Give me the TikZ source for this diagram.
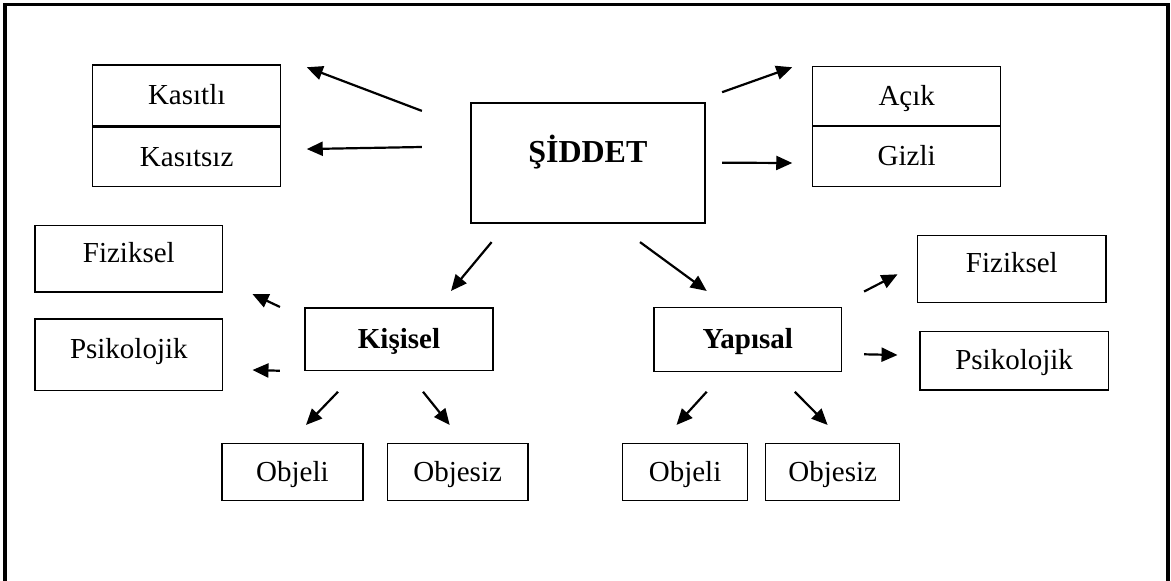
\documentclass[tikz,border=0pt]{standalone}
\usepackage{fontspec}
\setmainfont{Liberation Serif}
\usetikzlibrary{arrows.meta}

\tikzset{
	box/.style={draw, line width=1.5pt, inner sep=0pt, text height=20pt, text depth=2pt,
		font=\fontsize{29}{34}\selectfont},
	boldbox/.style={box, font=\bfseries\fontsize{29}{34}\selectfont},
	raised/.style={text depth=13pt},
	arr/.style={->, line width=2.2pt},
}

\begin{document}
\begin{tikzpicture}[x=1pt,y=-1pt,>={Triangle[length=16pt,width=14pt]}]
\useasboundingbox (0,0) rectangle (1171,581);

% outer frame (open at the bottom)
\draw[line width=3.2pt] (5,595) -- (5,4.3) -- (1168,4.3) -- (1168,595);

%----------------------------
% Top row
%----------------------------
\node[box, line width=2.2pt, minimum width=234.3pt, minimum height=120pt,
	font=\bfseries\fontsize{32}{38}\selectfont, text height=22pt, text depth=22pt]
	(siddet) at (587.85,162.7) {ŞİDDET};

% Kasıtlı / Kasıtsız
\node[box, minimum width=188pt, minimum height=60.8pt] (kasitli) at (186.7,95.4) {Kasıtlı};
\node[box, minimum width=188pt, minimum height=59.3pt] (kasitsiz) at (186.7,157.05) {Kasıtsız};

% Açık / Gizli
\node[box, minimum width=188pt, minimum height=59.3pt] (acik) at (906.7,96.35) {Açık};
\node[box, minimum width=188pt, minimum height=60.7pt] (gizli) at (906.7,156.35) {Gizli};

%----------------------------
% Kişisel side
%----------------------------
\node[boldbox, minimum width=188pt, minimum height=62.7pt] (kisisel) at (399,339.35) {Kişisel};
\node[box, raised, minimum width=187.7pt, minimum height=66.3pt] (fizL) at (128.85,258.85) {Fiziksel};
\node[box, raised, minimum width=187.7pt, minimum height=71.7pt] (psiL) at (128.85,354.85) {Psikolojik};
\node[box, minimum width=140.8pt, minimum height=57.4pt] (objL) at (292.4,472) {Objeli};
\node[box, minimum width=140.7pt, minimum height=57.4pt] (objsizL) at (457.65,472) {Objesiz};

%----------------------------
% Yapısal side
%----------------------------
\node[boldbox, minimum width=187.7pt, minimum height=64pt] (yapisal) at (747.85,339.7) {Yapısal};
\node[box, raised, minimum width=188.3pt, minimum height=66.6pt] (fizR) at (1011.85,269) {Fiziksel};
\node[box, minimum width=188.3pt, minimum height=58.3pt] (psiR) at (1014.15,360.85) {Psikolojik};
\node[box, minimum width=124.9pt, minimum height=57.4pt] (objR) at (685.05,472) {Objeli};
\node[box, minimum width=134pt, minimum height=57.4pt] (objsizR) at (832.7,472) {Objesiz};

%----------------------------
% Arrows
%----------------------------
\draw[arr] ([shift={(-47.7,9.3)}]siddet.north west) -- ([shift={(25.3,3)}]kasitli.north east);
\draw[arr] ([shift={(-47.7,-15.7)}]siddet.west) -- ([shift={(25.3,-8)}]kasitsiz.east);
\draw[arr] ([shift={(16,-9.4)}]siddet.north east) -- ([shift={(-19.7,1.3)}]acik.north west);
\draw[arr] ([shift={(16,0)}]siddet.east) -- ([shift={(-19.7,6.65)}]gizli.west);
\draw[arr] ([shift={(22,18.3)}]siddet.south west) -- ([shift={(52,-16.3)}]kisisel.north);
\draw[arr] ([shift={(52.15,18.3)}]siddet.south) -- ([shift={(-41.15,-16)}]yapisal.north);

\draw[arr] ([shift={(-24.3,-0.3)}]kisisel.north west) -- ([shift={(29,1.3)}]fizL.south east);
\draw[arr] ([shift={(-24.3,-0.7)}]kisisel.south west) -- ([shift={(29,15.15)}]psiL.east);
\draw[arr] ([shift={(-61,20.3)}]kisisel.south) -- ([shift={(13.6,-17.6)}]objL.north);
\draw[arr] ([shift={(24,20.3)}]kisisel.south) -- ([shift={(-7.95,-17.6)}]objsizL.north);

\draw[arr] ([shift={(21.6,-15.4)}]yapisal.north east) -- ([shift={(-19.4,5.3)}]fizR.west);
\draw[arr] ([shift={(21.6,14.6)}]yapisal.east) -- ([shift={(-21.7,-5.85)}]psiR.west);
\draw[arr] ([shift={(-41.15,19.3)}]yapisal.south) -- ([shift={(-8.55,-17.6)}]objR.north);
\draw[arr] ([shift={(46.95,19.3)}]yapisal.south) -- ([shift={(-5.1,-17.6)}]objsizR.north);
\end{tikzpicture}
\end{document}
